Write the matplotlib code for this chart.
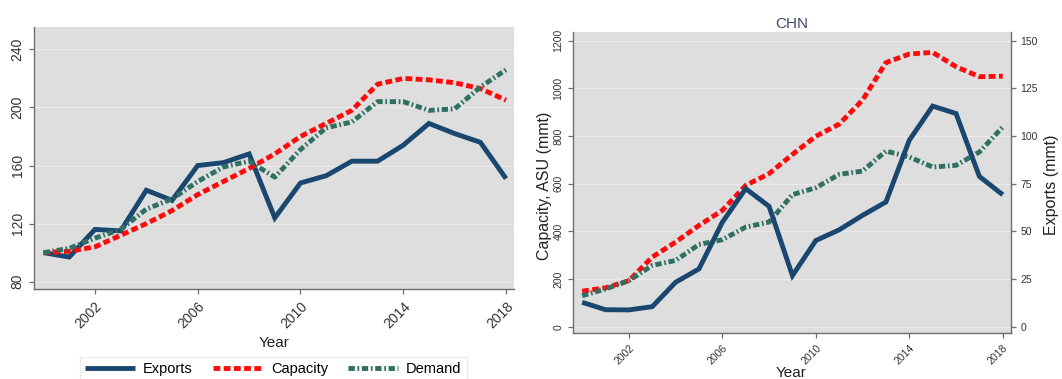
"""
Steel exports, capacity and demand: world index (2000 = 100) and China (mmt).
"""
import matplotlib.pyplot as plt

plt.rcParams["font.family"] = ["Liberation Sans", "DejaVu Sans"]

years = list(range(2000, 2019))

# World, index 2000 = 100
world_exports = [100, 97, 116, 115, 143, 136, 160, 162, 168, 124, 148, 153,
                 163, 163, 174, 189, 182, 176, 151]
world_capacity = [100, 101, 104, 112, 120, 129, 140, 149, 158, 168, 180, 189,
                  198, 216, 220, 219, 217, 213, 205]
world_demand = [100, 103, 110, 116, 130, 137, 149, 159, 163, 152, 171, 186,
                190, 204, 204, 198, 199, 214, 226]

# China, mmt
chn_exports = [12.8, 8.9, 8.8, 10.5, 23.3, 30.3, 54.8, 72.4, 63.1, 26.8, 45.2,
               50.8, 58.4, 65.4, 97.8, 115.7, 111.8, 78.8, 69.2]
chn_capacity = [149, 163, 193, 292, 355, 425, 488, 593, 642, 723, 799, 850,
                951, 1108, 1144, 1151, 1091, 1049, 1051]
chn_demand = [130, 158, 193, 257, 278, 345, 365, 418, 439, 554, 583, 639,
              653, 737, 712, 670, 677, 733, 838]

x_ticks = [2002, 2006, 2010, 2014, 2018]
world_yticks = [80, 120, 160, 200, 240]
chn_left_ticks = [0, 200, 400, 600, 800, 1000, 1200]
chn_right_ticks = [0, 25, 50, 75, 100, 125, 150]

NAVY = "#1a476f"
RED = "#ff0a0a"
TEAL = "#2f7063"
PLOT_BG = "#dedede"
GRID = "#ebebeb"
AXIS = "#6e6e6e"

LW = 3.5
exp_style = dict(color=NAVY, lw=LW, solid_capstyle="butt", solid_joinstyle="miter")
cap_style = dict(color=RED, lw=LW, dashes=(1.4, 0.7), dash_capstyle="butt")
dem_style = dict(color=TEAL, lw=LW, dashes=(1.3, 0.55, 0.35, 0.55),
                 dash_capstyle="butt")


def style_axes(ax, label_size):
    ax.set_facecolor(PLOT_BG)
    ax.grid(True, axis="y", color=GRID, lw=0.9)
    ax.set_axisbelow(True)
    for side in ("top", "right"):
        ax.spines[side].set_visible(False)
    for side in ("left", "bottom"):
        ax.spines[side].set_color(AXIS)
        ax.spines[side].set_linewidth(1.0)
    ax.tick_params(colors=AXIS, labelcolor="#333333", labelsize=label_size,
                   length=3.5, width=0.9)
    ax.set_xticks(x_ticks)
    for lab in ax.get_xticklabels():
        lab.set_rotation(45)
        lab.set_ha("right")
        lab.set_rotation_mode("anchor")
    for lab in ax.get_yticklabels():
        lab.set_rotation(90)
        lab.set_va("center")


fig = plt.figure(figsize=(10.62, 3.79), dpi=100)

# ---- left panel: world index ----
ax1 = fig.add_axes([0.0323, 0.2367, 0.4517, 0.6929])
ax1.plot(years, world_exports, label="Exports", **exp_style)
ax1.plot(years, world_capacity, label="Capacity", **cap_style)
ax1.plot(years, world_demand, label="Demand", **dem_style)
ax1.set_xlim(1999.64, 2018.31)
ax1.set_ylim(74.8, 255.6)
ax1.set_yticks(world_yticks)
style_axes(ax1, 10)
ax1.set_xlabel("Year", fontsize=11, color="#222222")
ax1.xaxis.set_label_coords(0.5, -0.178)

fig.legend(loc="upper center", bbox_to_anchor=(0.2575, 0.077), ncol=3,
           fontsize=10.5, frameon=True, fancybox=False, edgecolor="#ececec",
           facecolor="white", framealpha=1, handlelength=3.4,
           handletextpad=0.55, columnspacing=1.4, borderpad=0.35)

# ---- right panel: China ----
ax2 = fig.add_axes([0.5398, 0.1206, 0.4119, 0.7958])
ax2.plot(years, chn_capacity, **cap_style)
ax2.plot(years, chn_demand, **dem_style)
ax2.set_xlim(1999.62, 2018.34)
ax2.set_ylim(-27.7, 1237.8)
ax2.set_yticks(chn_left_ticks)
style_axes(ax2, 7.5)
ax2.set_ylabel("Capacity, ASU (mmt)", fontsize=11.5, color="#222222")
ax2.yaxis.set_label_coords(-0.049, 0.488)
ax2.set_xlabel("Year", fontsize=11, color="#222222")
ax2.xaxis.set_label_coords(0.498, -0.11)
ax2.set_title("CHN", fontsize=11, color="#3f4a6e", pad=3)

ax3 = ax2.twinx()
ax3.plot(years, chn_exports, **exp_style)
ax3.set_ylim(-27.7 / 8, 1237.8 / 8)
ax3.set_yticks(chn_right_ticks)
for side in ("top", "left", "bottom"):
    ax3.spines[side].set_visible(False)
ax3.spines["right"].set_color(AXIS)
ax3.spines["right"].set_linewidth(1.0)
ax3.tick_params(colors=AXIS, labelcolor="#333333", labelsize=7.5,
                length=3.5, width=0.9)
ax3.set_ylabel("Exports (mmt)", fontsize=11.5, color="#222222")
ax3.yaxis.set_label_coords(1.075, 0.492)

fig.savefig("out.png", dpi=100)
